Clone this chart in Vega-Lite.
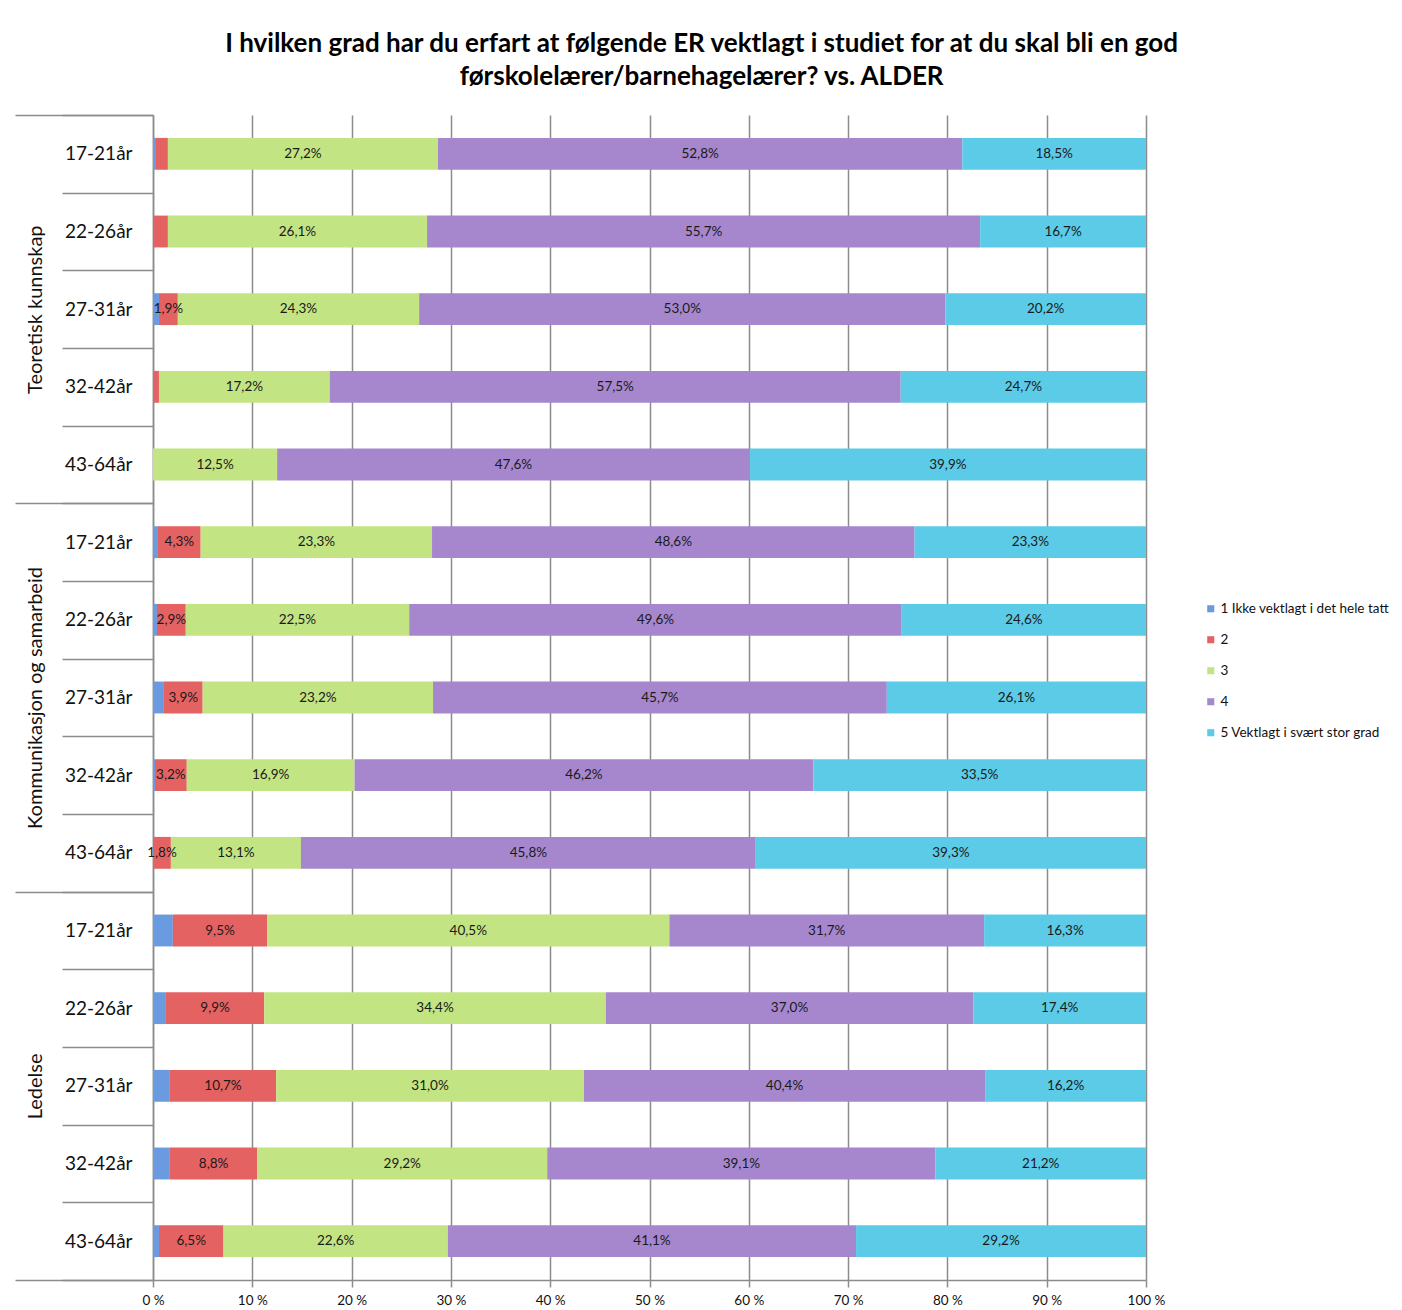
{
  "$schema": "https://vega.github.io/schema/vega-lite/v6.json",
  "width": 993,
  "height": 1165,
  "padding": {"left": 14, "top": 31, "right": 0, "bottom": 0},
  "background": "white",
  "title": {
    "text": ["I hvilken grad har du erfart at følgende ER vektlagt i studiet for at du skal bli en god", "førskolelærer/barnehagelærer? vs. ALDER"],
    "font": "Lato", "fontSize": 26, "fontWeight": "bold", "color": "#000000",
    "anchor": "middle", "frame": "bounds", "lineHeight": 33, "offset": 16
  },
  "data": {"values": [
    {"group": "Teoretisk kunnskap", "age": "17-21år", "cat": "1", "value": 0.3},
    {"group": "Teoretisk kunnskap", "age": "17-21år", "cat": "2", "value": 1.2},
    {"group": "Teoretisk kunnskap", "age": "17-21år", "cat": "3", "value": 27.2},
    {"group": "Teoretisk kunnskap", "age": "17-21år", "cat": "4", "value": 52.8},
    {"group": "Teoretisk kunnskap", "age": "17-21år", "cat": "5", "value": 18.5},
    {"group": "Teoretisk kunnskap", "age": "22-26år", "cat": "2", "value": 1.5},
    {"group": "Teoretisk kunnskap", "age": "22-26år", "cat": "3", "value": 26.1},
    {"group": "Teoretisk kunnskap", "age": "22-26år", "cat": "4", "value": 55.7},
    {"group": "Teoretisk kunnskap", "age": "22-26år", "cat": "5", "value": 16.7},
    {"group": "Teoretisk kunnskap", "age": "27-31år", "cat": "1", "value": 0.6},
    {"group": "Teoretisk kunnskap", "age": "27-31år", "cat": "2", "value": 1.9},
    {"group": "Teoretisk kunnskap", "age": "27-31år", "cat": "3", "value": 24.3},
    {"group": "Teoretisk kunnskap", "age": "27-31år", "cat": "4", "value": 53.0},
    {"group": "Teoretisk kunnskap", "age": "27-31år", "cat": "5", "value": 20.2},
    {"group": "Teoretisk kunnskap", "age": "32-42år", "cat": "2", "value": 0.6},
    {"group": "Teoretisk kunnskap", "age": "32-42år", "cat": "3", "value": 17.2},
    {"group": "Teoretisk kunnskap", "age": "32-42år", "cat": "4", "value": 57.5},
    {"group": "Teoretisk kunnskap", "age": "32-42år", "cat": "5", "value": 24.7},
    {"group": "Teoretisk kunnskap", "age": "43-64år", "cat": "3", "value": 12.5},
    {"group": "Teoretisk kunnskap", "age": "43-64år", "cat": "4", "value": 47.6},
    {"group": "Teoretisk kunnskap", "age": "43-64år", "cat": "5", "value": 39.9},
    {"group": "Kommunikasjon og samarbeid", "age": "17-21år", "cat": "1", "value": 0.5},
    {"group": "Kommunikasjon og samarbeid", "age": "17-21år", "cat": "2", "value": 4.3},
    {"group": "Kommunikasjon og samarbeid", "age": "17-21år", "cat": "3", "value": 23.3},
    {"group": "Kommunikasjon og samarbeid", "age": "17-21år", "cat": "4", "value": 48.6},
    {"group": "Kommunikasjon og samarbeid", "age": "17-21år", "cat": "5", "value": 23.3},
    {"group": "Kommunikasjon og samarbeid", "age": "22-26år", "cat": "1", "value": 0.4},
    {"group": "Kommunikasjon og samarbeid", "age": "22-26år", "cat": "2", "value": 2.9},
    {"group": "Kommunikasjon og samarbeid", "age": "22-26år", "cat": "3", "value": 22.5},
    {"group": "Kommunikasjon og samarbeid", "age": "22-26år", "cat": "4", "value": 49.6},
    {"group": "Kommunikasjon og samarbeid", "age": "22-26år", "cat": "5", "value": 24.6},
    {"group": "Kommunikasjon og samarbeid", "age": "27-31år", "cat": "1", "value": 1.1},
    {"group": "Kommunikasjon og samarbeid", "age": "27-31år", "cat": "2", "value": 3.9},
    {"group": "Kommunikasjon og samarbeid", "age": "27-31år", "cat": "3", "value": 23.2},
    {"group": "Kommunikasjon og samarbeid", "age": "27-31år", "cat": "4", "value": 45.7},
    {"group": "Kommunikasjon og samarbeid", "age": "27-31år", "cat": "5", "value": 26.1},
    {"group": "Kommunikasjon og samarbeid", "age": "32-42år", "cat": "1", "value": 0.2},
    {"group": "Kommunikasjon og samarbeid", "age": "32-42år", "cat": "2", "value": 3.2},
    {"group": "Kommunikasjon og samarbeid", "age": "32-42år", "cat": "3", "value": 16.9},
    {"group": "Kommunikasjon og samarbeid", "age": "32-42år", "cat": "4", "value": 46.2},
    {"group": "Kommunikasjon og samarbeid", "age": "32-42år", "cat": "5", "value": 33.5},
    {"group": "Kommunikasjon og samarbeid", "age": "43-64år", "cat": "2", "value": 1.8},
    {"group": "Kommunikasjon og samarbeid", "age": "43-64år", "cat": "3", "value": 13.1},
    {"group": "Kommunikasjon og samarbeid", "age": "43-64år", "cat": "4", "value": 45.8},
    {"group": "Kommunikasjon og samarbeid", "age": "43-64år", "cat": "5", "value": 39.3},
    {"group": "Ledelse", "age": "17-21år", "cat": "1", "value": 2.0},
    {"group": "Ledelse", "age": "17-21år", "cat": "2", "value": 9.5},
    {"group": "Ledelse", "age": "17-21år", "cat": "3", "value": 40.5},
    {"group": "Ledelse", "age": "17-21år", "cat": "4", "value": 31.7},
    {"group": "Ledelse", "age": "17-21år", "cat": "5", "value": 16.3},
    {"group": "Ledelse", "age": "22-26år", "cat": "1", "value": 1.3},
    {"group": "Ledelse", "age": "22-26år", "cat": "2", "value": 9.9},
    {"group": "Ledelse", "age": "22-26år", "cat": "3", "value": 34.4},
    {"group": "Ledelse", "age": "22-26år", "cat": "4", "value": 37.0},
    {"group": "Ledelse", "age": "22-26år", "cat": "5", "value": 17.4},
    {"group": "Ledelse", "age": "27-31år", "cat": "1", "value": 1.7},
    {"group": "Ledelse", "age": "27-31år", "cat": "2", "value": 10.7},
    {"group": "Ledelse", "age": "27-31år", "cat": "3", "value": 31.0},
    {"group": "Ledelse", "age": "27-31år", "cat": "4", "value": 40.4},
    {"group": "Ledelse", "age": "27-31år", "cat": "5", "value": 16.2},
    {"group": "Ledelse", "age": "32-42år", "cat": "1", "value": 1.7},
    {"group": "Ledelse", "age": "32-42år", "cat": "2", "value": 8.8},
    {"group": "Ledelse", "age": "32-42år", "cat": "3", "value": 29.2},
    {"group": "Ledelse", "age": "32-42år", "cat": "4", "value": 39.1},
    {"group": "Ledelse", "age": "32-42år", "cat": "5", "value": 21.2},
    {"group": "Ledelse", "age": "43-64år", "cat": "1", "value": 0.6},
    {"group": "Ledelse", "age": "43-64år", "cat": "2", "value": 6.5},
    {"group": "Ledelse", "age": "43-64år", "cat": "3", "value": 22.6},
    {"group": "Ledelse", "age": "43-64år", "cat": "4", "value": 41.1},
    {"group": "Ledelse", "age": "43-64år", "cat": "5", "value": 29.2}
  ]},
  "transform": [
    {"calculate": "datum.group + '|' + datum.age", "as": "key"}
  ],
  "layer": [
    {
      "transform": [
        {"stack": "value", "groupby": ["key"], "sort": [{"field": "cat", "order": "ascending"}], "as": ["x0", "x1"]}
      ],
      "layer": [
        {
          "mark": {"type": "bar", "height": {"band": 0.41}},
          "encoding": {
            "y": {
              "field": "key", "type": "nominal",
              "sort": ["Teoretisk kunnskap|17-21år", "Teoretisk kunnskap|22-26år", "Teoretisk kunnskap|27-31år", "Teoretisk kunnskap|32-42år", "Teoretisk kunnskap|43-64år",
                       "Kommunikasjon og samarbeid|17-21år", "Kommunikasjon og samarbeid|22-26år", "Kommunikasjon og samarbeid|27-31år", "Kommunikasjon og samarbeid|32-42år", "Kommunikasjon og samarbeid|43-64år",
                       "Ledelse|17-21år", "Ledelse|22-26år", "Ledelse|27-31år", "Ledelse|32-42år", "Ledelse|43-64år"],
              "scale": {"paddingInner": 0, "paddingOuter": 0},
              "axis": {
                "orient": "left", "title": null, "tickBand": "extent", "tickSize": 91,
                "tickColor": "#8c8c8c", "tickWidth": 1.5, "domain": true, "domainColor": "#8c8c8c", "domainWidth": 1.5,
                "labelExpr": "split(datum.value, '|')[1]", "labelFont": "Lato", "labelFontSize": 19,
                "labelColor": "#111111", "labelPadding": -70, "labelLimit": 0
              }
            },
            "x": {
              "field": "x0", "type": "quantitative",
              "scale": {"domain": [0, 100], "nice": false},
              "axis": {
                "title": null, "values": [0, 10, 20, 30, 40, 50, 60, 70, 80, 90, 100],
                "labelExpr": "datum.value + ' %'", "labelFont": "Lato", "labelFontSize": 13.5, "labelColor": "#111111",
                "labelFlush": false, "labelOverlap": false,
                "grid": true, "gridColor": "#8c8c8c", "gridWidth": 1.5,
                "domainColor": "#8c8c8c", "domainWidth": 1.5, "tickColor": "#8c8c8c", "tickWidth": 1.5, "tickSize": 7,
                "labelPadding": 6
              }
            },
            "x2": {"field": "x1"},
            "color": {
              "field": "cat", "type": "nominal",
              "scale": {"domain": ["1", "2", "3", "4", "5"], "range": ["#6a9ae0", "#e46262", "#c2e482", "#a687ce", "#5ccbe7"]},
              "legend": {
                "orient": "none", "legendX": 1051, "legendY": 487, "title": null,
                "symbolType": "square", "symbolSize": 50, "symbolStrokeWidth": 0,
                "labelFont": "Lato", "labelFontSize": 13.5, "labelColor": "#111111", "rowPadding": 16, "labelOffset": 3,
                "labelLimit": 0,
                "labelExpr": "datum.label == '1' ? '1 Ikke vektlagt i det hele tatt' : datum.label == '5' ? '5 Vektlagt i svært stor grad' : datum.label"
              }
            }
          }
        },
        {
          "transform": [
            {"filter": "datum.value >= 1.8 && datum.cat != '1'"},
            {"calculate": "(datum.x0 + datum.x1) / 2", "as": "mid"},
            {"calculate": "replace(format(datum.value, '.1f'), '.', ',') + '%'", "as": "label"}
          ],
          "mark": {"type": "text", "font": "Lato", "fontSize": 13.5, "color": "#1a1a1a"},
          "encoding": {
            "y": {
              "field": "key", "type": "nominal",
              "sort": ["Teoretisk kunnskap|17-21år", "Teoretisk kunnskap|22-26år", "Teoretisk kunnskap|27-31år", "Teoretisk kunnskap|32-42år", "Teoretisk kunnskap|43-64år",
                       "Kommunikasjon og samarbeid|17-21år", "Kommunikasjon og samarbeid|22-26år", "Kommunikasjon og samarbeid|27-31år", "Kommunikasjon og samarbeid|32-42år", "Kommunikasjon og samarbeid|43-64år",
                       "Ledelse|17-21år", "Ledelse|22-26år", "Ledelse|27-31år", "Ledelse|32-42år", "Ledelse|43-64år"]
            },
            "x": {"field": "mid", "type": "quantitative"},
            "text": {"field": "label"}
          }
        }
      ]
    },
    {
      "mark": {"type": "bar", "opacity": 0},
      "encoding": {
        "y": {
          "field": "group", "type": "nominal",
          "sort": ["Teoretisk kunnskap", "Kommunikasjon og samarbeid", "Ledelse"],
          "scale": {"paddingInner": 0, "paddingOuter": 0},
          "axis": {
            "orient": "left", "title": null, "tickBand": "extent", "tickSize": 138,
            "tickColor": "#8c8c8c", "tickWidth": 1.5, "domain": false,
            "labelAngle": -90, "labelAlign": "center", "labelBaseline": "bottom",
            "labelFont": "Lato", "labelFontSize": 20, "labelColor": "#111111", "labelPadding": -30, "labelLimit": 0
          }
        }
      }
    }
  ],
  "resolve": {"scale": {"y": "independent"}, "axis": {"y": "independent"}},
  "config": {"view": {"stroke": null}, "font": "Lato"}
}
